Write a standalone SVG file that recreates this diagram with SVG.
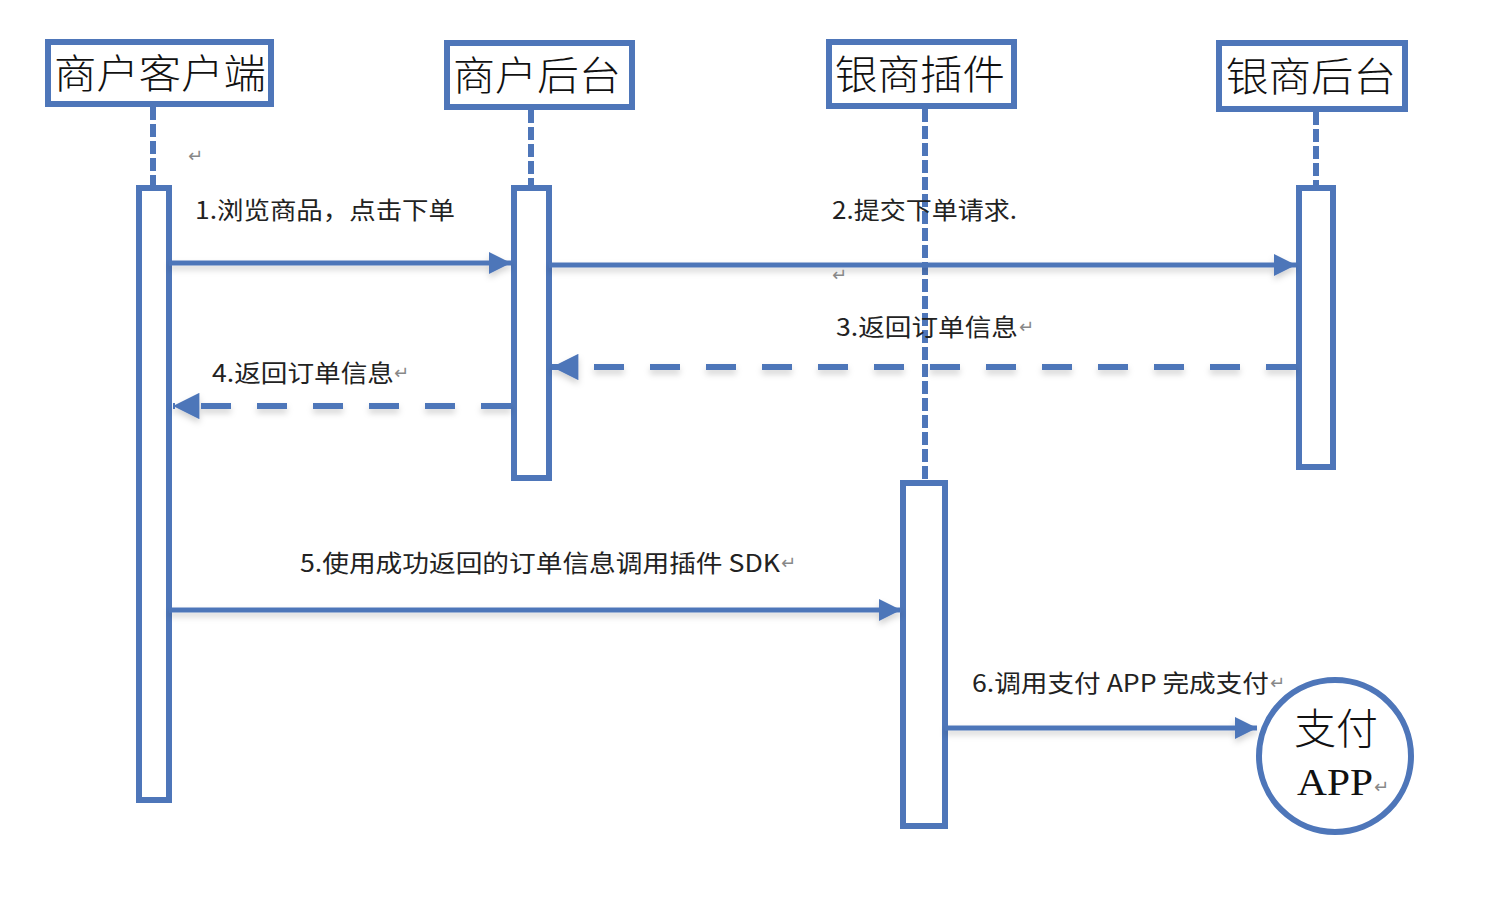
<svg xmlns="http://www.w3.org/2000/svg" width="1504" height="912" viewBox="0 0 1504 912">
<style>
.box{fill:#fff;stroke:#4e76b9;stroke-width:6}
.act{fill:#fff;stroke:#4e76b9;stroke-width:6}
.life{stroke:#4e76b9;stroke-width:6;stroke-dasharray:13 4;fill:none}
.msg{stroke:#4e76b9;stroke-width:5;fill:none}
.ret{stroke:#4e76b9;stroke-width:6;fill:none;stroke-dasharray:30 26}
.head{font-family:"Noto Sans CJK SC","Noto Sans",sans-serif;font-size:40px;font-weight:300;fill:#111}
.lbl{font-family:"Noto Sans CJK SC","Noto Sans",sans-serif;font-size:24px;fill:#222}
.mark{font-family:"DejaVu Sans",sans-serif;font-size:18px;fill:#888}
</style>
<defs>
<marker id="arr" viewBox="0 0 10 10" refX="10" refY="5" markerWidth="4.8" markerHeight="4.4" markerUnits="strokeWidth" orient="auto">
<path d="M0,0 L10,5 L0,10 Z" fill="#4e76b9"/>
</marker>
<filter id="sh" x="-5%" y="-50%" width="110%" height="300%">
<feDropShadow dx="0" dy="4" stdDeviation="3" flood-color="#000" flood-opacity="0.18"/>
</filter>
</defs>
<rect width="1504" height="912" fill="#fff"/>

<g id="lifelines">
<line class="life" x1="153" y1="107" x2="153" y2="188"/>
<line class="life" x1="531" y1="110" x2="531" y2="188"/>
<line class="life" x1="925" y1="109" x2="925" y2="483"/>
<line class="life" x1="1316" y1="112" x2="1316" y2="188"/>
</g>

<g id="n1"><rect class="box" x="48" y="42" width="223" height="62"/><text class="head" x="54" y="88" textLength="212" lengthAdjust="spacingAndGlyphs">商户客户端</text></g>
<g id="n2"><rect class="box" x="447" y="43" width="185" height="64"/><text class="head" x="453" y="90" textLength="168" lengthAdjust="spacingAndGlyphs">商户后台</text></g>
<g id="n3"><rect class="box" x="829" y="42" width="185" height="64"/><text class="head" x="835" y="89" textLength="170" lengthAdjust="spacingAndGlyphs">银商插件</text></g>
<g id="n4"><rect class="box" x="1219" y="43" width="186" height="66"/><text class="head" x="1226" y="91" textLength="170" lengthAdjust="spacingAndGlyphs">银商后台</text></g>

<g id="a1"><rect class="act" x="139" y="188" width="30" height="612"/></g>
<g id="a2"><rect class="act" x="514" y="188" width="35" height="290"/></g>
<g id="a3"><rect class="act" x="903" y="483" width="42" height="343"/></g>
<g id="a4"><rect class="act" x="1299" y="188" width="34" height="279"/></g>

<g id="n5"><circle cx="1335" cy="756" r="76" fill="#fff" stroke="#4e76b9" stroke-width="6"/>
<text x="1294" y="744" font-family="Noto Sans CJK SC,sans-serif" font-size="42" font-weight="300" fill="#111" textLength="84" lengthAdjust="spacingAndGlyphs">支付</text>
<text x="1297" y="795" font-family="Liberation Serif,serif" font-size="38" fill="#111" textLength="76" lengthAdjust="spacingAndGlyphs">APP</text>
<text x="1374" y="793" class="mark" font-size="12">↵</text>
</g>

<g id="connectors" filter="url(#sh)">
<line class="msg" x1="169" y1="263" x2="511" y2="263" marker-end="url(#arr)"/>
<line class="msg" x1="549" y1="265" x2="1296" y2="265" marker-end="url(#arr)"/>
<line class="ret" x1="1296" y1="367" x2="552" y2="367" marker-end="url(#arr)"/>
<line class="ret" x1="511" y1="406" x2="173" y2="406" marker-end="url(#arr)"/>
<line class="msg" x1="169" y1="610" x2="901" y2="610" marker-end="url(#arr)"/>
<line class="msg" x1="945" y1="728" x2="1257" y2="728" marker-end="url(#arr)"/>
</g>

<g id="labels">
<text class="lbl" x="195" y="219" textLength="260" lengthAdjust="spacingAndGlyphs">1.浏览商品，点击下单</text>
<text class="lbl" x="832" y="219" textLength="185" lengthAdjust="spacingAndGlyphs">2.提交下单请求.</text>
<text class="lbl" x="836" y="336" textLength="182" lengthAdjust="spacingAndGlyphs">3.返回订单信息</text>
<text class="lbl" x="212" y="382" textLength="182" lengthAdjust="spacingAndGlyphs">4.返回订单信息</text>
<text class="lbl" x="300" y="572" textLength="480" lengthAdjust="spacingAndGlyphs">5.使用成功返回的订单信息调用插件 SDK</text>
<text class="lbl" x="972" y="692" textLength="297" lengthAdjust="spacingAndGlyphs">6.调用支付 APP 完成支付</text>
<text class="mark" x="188" y="162">↵</text>
<text class="mark" x="832" y="281">↵</text>
<text class="mark" x="1019" y="333">↵</text>
<text class="mark" x="394" y="379">↵</text>
<text class="mark" x="781" y="569">↵</text>
<text class="mark" x="1270" y="689">↵</text>
</g>
</svg>
